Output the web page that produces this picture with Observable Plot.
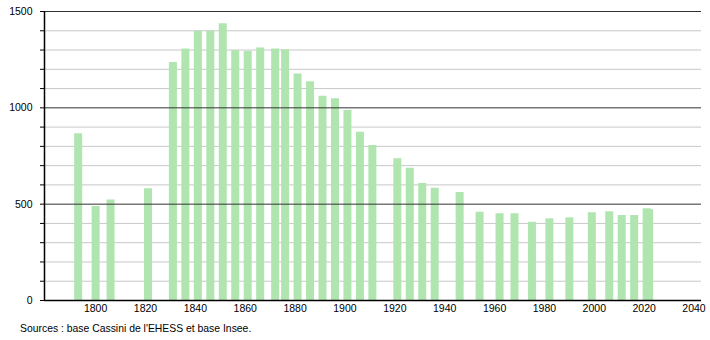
<!DOCTYPE html>
<html>
<head>
<meta charset="utf-8">
<script src="https://cdn.jsdelivr.net/npm/d3@7"></script>
<script src="https://cdn.jsdelivr.net/npm/@observablehq/plot@0.6"></script>
<style>
  html, body { margin: 0; padding: 0; background: #fff; }
  #chart svg { display: block; }
  #caption { font-family: "Liberation Sans", Arial, sans-serif; font-size: 10.4px; color: #000; margin: 4px 0 0 20px; line-height: 13px; }
</style>
</head>
<body>
<div id="chart"></div>
<div id="caption"></div>
<script>
const years = [1793,1800,1806,1821,1831,1836,1841,1846,1851,1856,1861,1866,1872,1876,1881,1886,1891,1896,1901,1906,1911,1921,1926,1931,1936,1946,1954,1962,1968,1975,1982,1990,1999,2006,2011,2016,2021,2022];
const population = [865,488,522,580,1235,1306,1398,1398,1436,1297,1292,1311,1306,1301,1176,1136,1060,1047,986,873,804,736,686,607,582,560,458,450,450,406,424,429,455,460,441,441,476,471];
const majorTicks = [0,500,1000,1500];
const minorTicks = d3.range(100, 1500, 100).filter(v => v % 500 !== 0);
const allTicks = d3.range(0, 1501, 100);
const xTicks = [1800,1820,1840,1860,1880,1900,1920,1940,1960,1980,2000,2020,2040];
const caption = "Sources : base Cassini de l'EHESS et base Insee.";

const data = years.map((y, i) => ({year: y, pop: population[i]}));

const chart = Plot.plot({
  width: 710,
  height: 318,
  marginLeft: 44,
  marginRight: 9,
  marginTop: 11,
  marginBottom: 18,
  style: {fontFamily: "'Liberation Sans', Arial, sans-serif", fontSize: "10.5px", color: "#000", background: "#fff"},
  x: {type: "linear", domain: [1779.5, 2043], label: null},
  y: {type: "linear", domain: [0, 1500], label: null},
  marks: [
    Plot.ruleY(minorTicks, {stroke: "#c8c8c8", strokeWidth: 1, strokeOpacity: 1}),
    Plot.ruleX(data, {x: "year", y1: 0, y2: "pop", stroke: "#b0e5b0", strokeWidth: 8, strokeOpacity: 1}),
    Plot.ruleY(majorTicks.filter(v => v > 0), {stroke: "#333", strokeWidth: 1, strokeOpacity: 1}),
    Plot.axisX({ticks: xTicks, tickFormat: d => String(d), tickSize: 0, tickPadding: 4, label: null}),
    Plot.axisY({ticks: allTicks, tickSize: 4, tickPadding: 8, tickFormat: d => d % 500 === 0 ? String(d) : "", label: null, strokeOpacity: 1}),
    Plot.ruleY([0], {stroke: "#000", strokeWidth: 1.5, strokeOpacity: 1}),
    Plot.ruleX([1779.5], {y1: 0, y2: 1500, stroke: "#000", strokeWidth: 1.5, strokeOpacity: 1})
  ]
});
document.getElementById("chart").appendChild(chart);
document.getElementById("caption").textContent = caption;
</script>
</body>
</html>
